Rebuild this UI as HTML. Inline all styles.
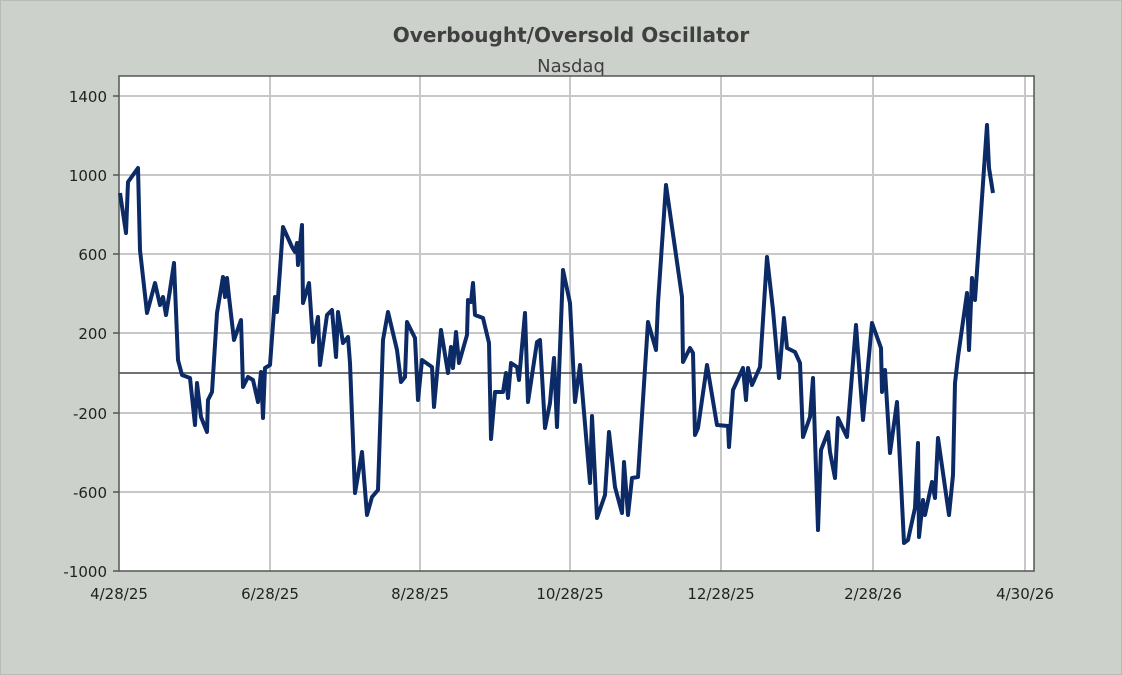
<!DOCTYPE html>
<html><head><style>
html,body{margin:0;padding:0;background:#cdd1cb;}
svg{display:block;font-family:"DejaVu Sans","Liberation Sans",sans-serif;}
</style></head><body>
<svg width="1122" height="675" viewBox="0 0 1122 675">
<rect width="1122" height="675" fill="#cdd1cb"/>
<rect x="0" y="0" width="1122" height="675" fill="none" stroke="#b8bcb6" stroke-width="2"/>
<text x="571" y="42" text-anchor="middle" font-size="20" font-weight="bold" fill="#404040">Overbought/Oversold Oscillator</text>
<text x="571" y="72" text-anchor="middle" font-size="18" fill="#404040">Nasdaq</text>
<rect x="119" y="76" width="915" height="495" fill="#fff"/>
<g stroke="#c8c8c8" stroke-width="2">
<line x1="119" y1="96" x2="1034" y2="96"/><line x1="119" y1="175" x2="1034" y2="175"/>
<line x1="119" y1="254" x2="1034" y2="254"/><line x1="119" y1="333" x2="1034" y2="333"/>
<line x1="119" y1="413" x2="1034" y2="413"/><line x1="119" y1="492" x2="1034" y2="492"/>
<line x1="270" y1="76" x2="270" y2="571"/><line x1="420" y1="76" x2="420" y2="571"/>
<line x1="570" y1="76" x2="570" y2="571"/><line x1="721" y1="76" x2="721" y2="571"/>
<line x1="873" y1="76" x2="873" y2="571"/><line x1="1025" y1="76" x2="1025" y2="571"/>
</g>
<line x1="119" y1="373" x2="1034" y2="373" stroke="#444" stroke-width="1.5"/>
<rect x="119" y="76" width="915" height="495" fill="none" stroke="#555" stroke-width="1.5"/>
<g stroke="#555" stroke-width="1.5">
<line x1="113" y1="96" x2="119" y2="96"/><line x1="113" y1="175" x2="119" y2="175"/><line x1="113" y1="254" x2="119" y2="254"/><line x1="113" y1="333" x2="119" y2="333"/><line x1="113" y1="413" x2="119" y2="413"/><line x1="113" y1="492" x2="119" y2="492"/><line x1="113" y1="571" x2="119" y2="571"/>
</g>
<g font-size="15" fill="#222" text-anchor="end">
<text x="107" y="102">1400</text><text x="107" y="181">1000</text><text x="107" y="260">600</text><text x="107" y="339">200</text><text x="107" y="419">-200</text><text x="107" y="498">-600</text><text x="107" y="577">-1000</text>
</g>
<g font-size="15" fill="#222" text-anchor="middle">
<text x="119" y="599">4/28/25</text><text x="270" y="599">6/28/25</text><text x="420" y="599">8/28/25</text><text x="570" y="599">10/28/25</text><text x="721" y="599">12/28/25</text><text x="873" y="599">2/28/26</text><text x="1025" y="599">4/30/26</text>
</g>
<polyline fill="none" stroke="#0b2a66" stroke-width="4" stroke-linejoin="round" points="120,193 126,233 128,182 138,168 140,250 147,313 155,283 160,305 163,297 166,315 170,290 174,263 178,360 182,375 190,378 195,425 197,383 201,417 207,432 208,400 212,392 217,313 223,277 225,297 227,278 229,297 234,340 241,320 243,387 248,377 253,380 258,402 261,372 263,418 265,368 270,365 275,297 277,312 283,227 292,247 295,252 297,243 298,265 302,225 303,303 309,283 313,342 318,317 320,365 327,315 332,310 336,357 338,312 343,343 348,337 350,363 355,493 362,452 367,515 372,497 378,490 383,340 388,312 397,350 401,382 405,377 407,322 415,338 418,400 422,360 432,367 434,407 441,330 448,373 451,347 453,368 456,332 459,363 467,335 468,300 471,302 473,283 475,315 483,318 489,343 491,439 495,392 503,392 506,373 508,398 511,363 517,367 519,380 525,313 528,402 537,342 540,340 545,428 550,403 554,358 557,427 563,270 570,303 575,402 580,365 590,483 592,416 597,518 605,495 609,432 615,487 622,513 624,462 628,515 632,478 638,477 648,322 656,350 658,303 666,185 682,297 683,362 690,348 693,353 695,435 698,428 707,365 717,425 728,426 729,447 733,390 743,368 746,400 748,368 752,385 760,367 767,257 773,310 779,378 784,318 787,348 795,352 800,363 803,437 810,417 813,378 818,530 821,450 828,432 830,452 835,478 838,418 847,437 856,325 863,420 872,323 881,348 882,392 885,370 890,453 897,402 904,543 908,540 915,508 918,443 919,537 923,500 925,515 932,482 935,498 938,438 949,515 953,475 955,383 958,357 967,293 969,350 972,278 975,300 987,125 989,168 993,193"/>
</svg>
</body></html>
